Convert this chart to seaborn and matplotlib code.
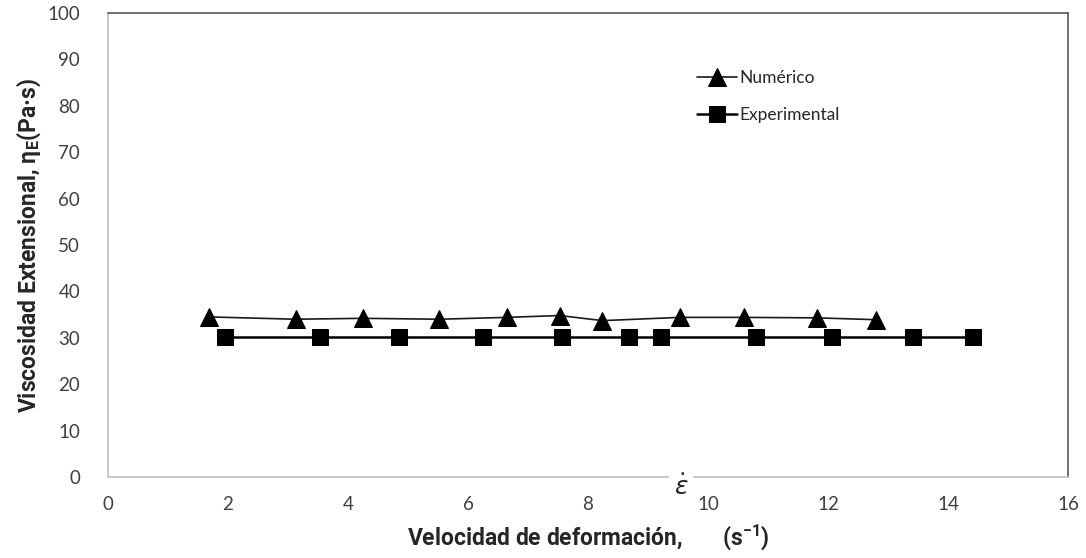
import matplotlib
matplotlib.use("Agg")
import matplotlib.pyplot as plt
import pandas as pd
import seaborn as sns

# data
num_x = [1.69, 3.13, 4.25, 5.51, 6.65, 7.53, 8.24, 9.53, 10.6, 11.81, 12.8]
num_y = [34.5, 34.0, 34.2, 34.0, 34.4, 34.8, 33.7, 34.4, 34.4, 34.3, 33.9]
exp_x = [1.95, 3.54, 4.85, 6.25, 7.57, 8.69, 9.22, 10.8, 12.06, 13.41, 14.42]
exp_y = [30.2, 30.2, 30.2, 30.2, 30.2, 30.2, 30.2, 30.2, 30.2, 30.2, 30.2]
labels = ["Numérico", "Experimental"]

sns.set_style("white")
plt.rcParams["font.family"] = ["Lato", "DejaVu Sans"]
plt.rcParams["mathtext.fontset"] = "dejavusans"

fig = plt.figure(figsize=(10.86, 5.58), dpi=100)
ax = fig.add_axes([108 / 1086, 81 / 558, 960 / 1086, 464 / 558])

df_num = pd.DataFrame({"x": num_x, "y": num_y})
df_exp = pd.DataFrame({"x": exp_x, "y": exp_y})

sns.lineplot(data=df_num, x="x", y="y", ax=ax, color="#1a1a1a", linewidth=1.2,
             marker="^", markersize=13, markeredgecolor="black",
             markerfacecolor="black", label=labels[0])
sns.lineplot(data=df_exp, x="x", y="y", ax=ax, color="black", linewidth=1.8,
             marker="s", markersize=12, markeredgecolor="black", label=labels[1])

ax.set_xlim(0, 16)
ax.set_ylim(0, 100)
ax.set_xticks(range(0, 17, 2))
ax.set_yticks(range(0, 101, 10))
ax.tick_params(length=0, labelsize=13.5, colors="#404040")
ax.tick_params(axis="x", pad=14)
ax.tick_params(axis="y", pad=20)

# frame: light axis lines, darker plot-area border
ax.spines["left"].set_color("#BFBFBF")
ax.spines["bottom"].set_color("#BFBFBF")
ax.spines["top"].set_color("#595959")
ax.spines["right"].set_color("#595959")
for s in ax.spines.values():
    s.set_linewidth(1.2)

ax.set_xlabel("Velocidad de deformación,       (s$\\mathregular{^{-1}}$)",
              fontsize=16.5, fontweight="bold", family="Roboto", labelpad=6)
ax.set_ylabel("Viscosidad Extensional, $\\mathregular{\\eta_E}$(Pa·s)",
              fontsize=16.5, fontweight="bold", family="Roboto", labelpad=3)

# strain rate symbol sitting on the x axis
fig.text(681 / 1086, 1 - 486 / 558, "$\\dot{\\varepsilon}$", fontsize=18,
         ha="center", va="center",
         bbox=dict(facecolor="white", edgecolor="none", pad=3))

leg = ax.legend(loc="center left", bbox_to_anchor=(0.6135, 0.82), frameon=False,
                fontsize=12.5, handlelength=2.3, handletextpad=0.15,
                labelspacing=1.25, borderpad=0, borderaxespad=0)
for t in leg.get_texts():
    t.set_color("#262626")

fig.savefig("out.png", dpi=100)
